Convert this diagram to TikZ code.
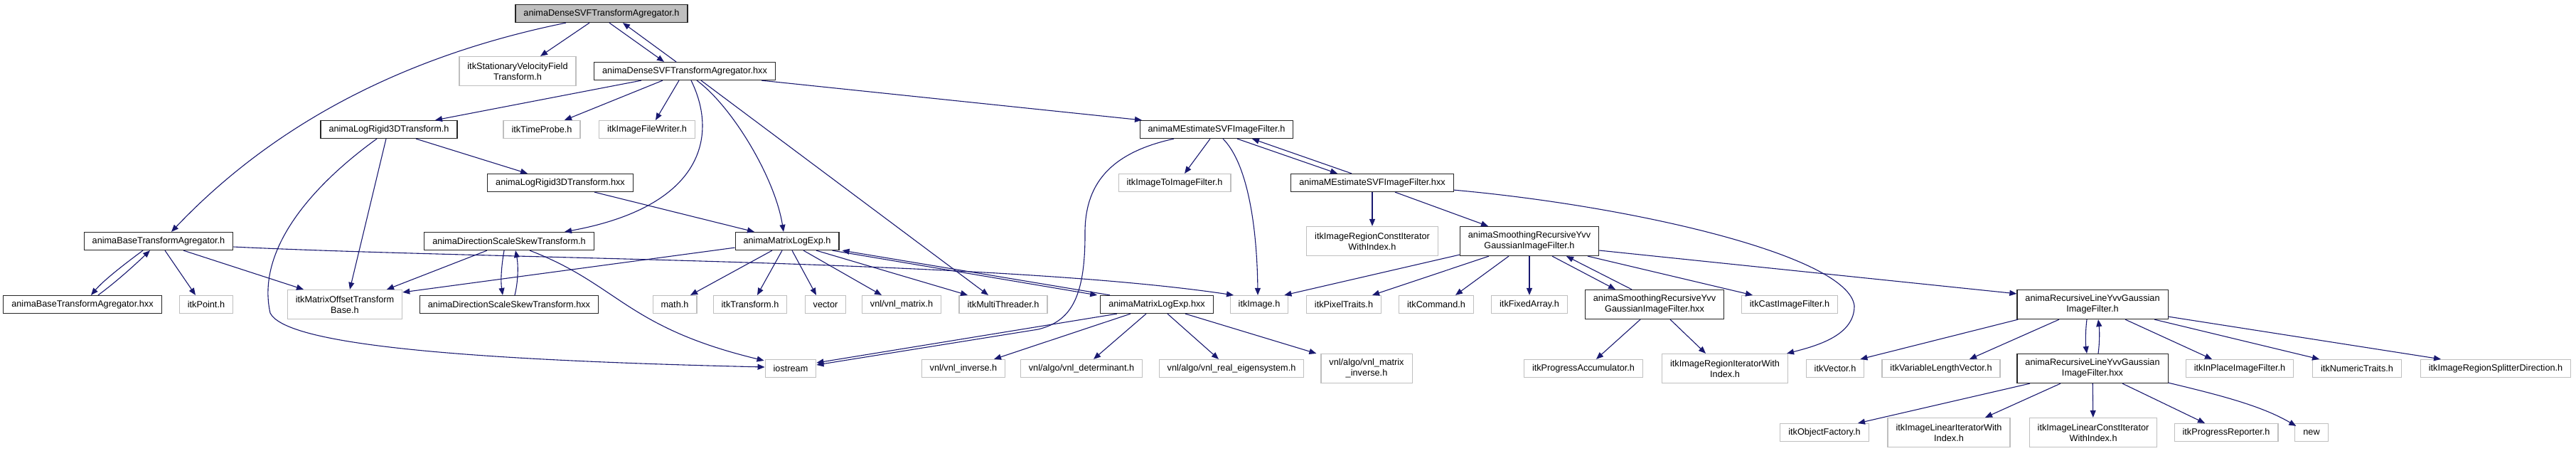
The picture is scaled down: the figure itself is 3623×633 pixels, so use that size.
\documentclass[tikz,border=0pt]{standalone}
\usepackage{fontspec}
\setmainfont{Liberation Sans}
\usetikzlibrary{arrows.meta}
\definecolor{edgeblue}{HTML}{191970}
\definecolor{grey75}{HTML}{BFBFBF}
\tikzset{
  file/.style = {draw=black!85, line width=1.2pt, fill=white, align=center,
    inner xsep=11.5pt, inner ysep=0pt, minimum height=25pt,
    font=\fontsize{12.7}{15}\selectfont},
  focus/.style = {file, fill=grey75},
  extfile/.style = {file, draw=grey75},
  tall/.style = {minimum height=41pt},
  dep/.style = {->, draw=edgeblue, line width=1.1pt},
  >={Triangle[length=10pt,width=8pt]}
}

\begin{document}
\begin{tikzpicture}[x=1pt,y=-1pt]
  \useasboundingbox (0,0) rectangle (3623,633);
  \node[focus] (dsvfH) at (846,19) {animaDenseSVFTransformAgregator.h};
  \node[extfile,tall] (svf) at (728,100) {itkStationaryVelocityField\\Transform.h};
  \node[file] (dsvfX) at (963,100) {animaDenseSVFTransformAgregator.hxx};
  \node[file] (lrH) at (547,182) {animaLogRigid3DTransform.h};
  \node[extfile] (tprobe) at (762,182) {itkTimeProbe.h};
  \node[extfile] (ifwriter) at (910,182) {itkImageFileWriter.h};
  \node[file] (mestH) at (1711,182) {animaMEstimateSVFImageFilter.h};
  \node[file] (lrX) at (788,257) {animaLogRigid3DTransform.hxx};
  \node[extfile] (itoi) at (1652,257) {itkImageToImageFilter.h};
  \node[file] (mestX) at (1930,257) {animaMEstimateSVFImageFilter.hxx};
  \node[file] (btaH) at (223,339) {animaBaseTransformAgregator.h};
  \node[file] (dssH) at (716,339) {animaDirectionScaleSkewTransform.h};
  \node[file] (mleH) at (1107,339) {animaMatrixLogExp.h};
  \node[extfile,tall] (ircwi) at (1930,339) {itkImageRegionConstIterator\\WithIndex.h};
  \node[file,tall] (smoH) at (2151,339) {animaSmoothingRecursiveYvv\\GaussianImageFilter.h};
  \node[file] (btaX) at (116,428) {animaBaseTransformAgregator.hxx};
  \node[extfile] (point) at (290,428) {itkPoint.h};
  \node[extfile,tall] (motb) at (485,428) {itkMatrixOffsetTransform\\Base.h};
  \node[file] (dssX) at (716,428) {animaDirectionScaleSkewTransform.hxx};
  \node[extfile] (mathh) at (949,428) {math.h};
  \node[extfile] (itktr) at (1055,428) {itkTransform.h};
  \node[extfile] (vect) at (1161,428) {vector};
  \node[extfile] (vnlmat) at (1268,428) {vnl/vnl\_matrix.h};
  \node[extfile] (mthread) at (1411,428) {itkMultiThreader.h};
  \node[file] (mleX) at (1627,428) {animaMatrixLogExp.hxx};
  \node[extfile] (image) at (1771,428) {itkImage.h};
  \node[extfile] (ptraits) at (1890,428) {itkPixelTraits.h};
  \node[extfile] (command) at (2020,428) {itkCommand.h};
  \node[extfile] (farray) at (2151,428) {itkFixedArray.h};
  \node[file,tall] (smoX) at (2327,428) {animaSmoothingRecursiveYvv\\GaussianImageFilter.hxx};
  \node[extfile] (cast) at (2517,428) {itkCastImageFilter.h};
  \node[file,tall] (rlH) at (2943,428) {animaRecursiveLineYvvGaussian\\ImageFilter.h};
  \node[extfile] (iostr) at (1112,518) {iostream};
  \node[extfile] (vinv) at (1355,518) {vnl/vnl\_inverse.h};
  \node[extfile] (vdet) at (1521,518) {vnl/algo/vnl\_determinant.h};
  \node[extfile] (veig) at (1732,518) {vnl/algo/vnl\_real\_eigensystem.h};
  \node[extfile,tall] (vminv) at (1922,518) {vnl/algo/vnl\_matrix\\\_inverse.h};
  \node[extfile] (pacc) at (2227,518) {itkProgressAccumulator.h};
  \node[extfile,tall] (iriwi) at (2426,518) {itkImageRegionIteratorWith\\Index.h};
  \node[extfile] (itkvec) at (2581,518) {itkVector.h};
  \node[extfile] (vlvec) at (2730,518) {itkVariableLengthVector.h};
  \node[file,tall] (rlX) at (2943,518) {animaRecursiveLineYvvGaussian\\ImageFilter.hxx};
  \node[extfile] (inplace) at (3150,518) {itkInPlaceImageFilter.h};
  \node[extfile] (ntraits) at (3315,518) {itkNumericTraits.h};
  \node[extfile] (splitter) at (3510,518) {itkImageRegionSplitterDirection.h};
  \node[extfile] (objfac) at (2566,608) {itkObjectFactory.h};
  \node[extfile,tall] (iliwi) at (2741,608) {itkImageLinearIteratorWith\\Index.h};
  \node[extfile,tall] (ilciwi) at (2944,608) {itkImageLinearConstIterator\\WithIndex.h};
  \node[extfile] (preport) at (3131,608) {itkProgressReporter.h};
  \node[extfile] (newh) at (3251,608) {new};

  \draw[dep] ([xshift=-50pt]dsvfH.south) .. controls (560,80) and (380,180) .. ([xshift=18pt]btaH.north);
  \draw[dep] ([xshift=-17pt]dsvfH.south) -- ([xshift=32pt]svf.north);
  \draw[dep] ([xshift=11pt]dsvfH.south) -- ([xshift=-29pt]dsvfX.north);
  \draw[dep] ([xshift=-12pt]dsvfX.north) -- ([xshift=30pt]dsvfH.south);

  \draw[dep] ([xshift=-61pt]dsvfX.south) -- ([xshift=65pt]lrH.north);
  \draw[dep] ([xshift=-31pt]dsvfX.south) -- ([xshift=32pt]tprobe.north);
  \draw[dep] ([xshift=-8pt]dsvfX.south) -- ([xshift=12pt]ifwriter.north);
  \draw[dep] ([xshift=108pt]dsvfX.south) -- ([xshift=-105pt]mestH.north);
  \draw[dep] ([xshift=9pt]dsvfX.south) .. controls (1010,190) and (990,290) .. ([xshift=78pt]dssH.north);
  \draw[dep] ([xshift=17pt]dsvfX.south) .. controls (1030,150) and (1090,250) .. ([xshift=-5pt]mleH.north);
  \draw[dep] ([xshift=23pt]dsvfX.south) -- ([xshift=-21pt]mthread.north);

  \draw[dep] ([xshift=38pt]lrH.south) -- ([xshift=-46pt]lrX.north);
  \draw[dep] ([xshift=-4pt]lrH.south) -- ([xshift=7pt]motb.north);
  \draw[dep] ([xshift=-17pt]lrH.south) .. controls (440,260) and (360,350) .. (380,440)
    .. controls (400,480) and (600,505) .. ([yshift=2pt]iostr.west);

  \draw[dep] ([xshift=-22pt]btaH.south) .. controls (170,375) and (145,395) .. ([xshift=12pt]btaX.north);
  \draw[dep] ([xshift=22pt]btaX.north) .. controls (165,395) and (190,372) .. ([xshift=-12pt]btaH.south);
  \draw[dep] ([xshift=9pt]btaH.south) -- ([xshift=-15pt]point.north);
  \draw[dep] ([xshift=35pt]btaH.south) -- ([xshift=-58pt]motb.north);
  \draw[dep] ([yshift=-8pt]btaH.east) .. controls (700,365) and (1400,365) .. ([xshift=-36pt]image.north);

  \draw[dep] ([xshift=48pt]lrX.south) -- ([xshift=-46pt]mleH.north);

  \draw[dep] ([xshift=-7pt]dssH.south) .. controls (705,375) and (704,395) .. ([xshift=-9pt]dssX.north);
  \draw[dep] ([xshift=8pt]dssX.north) .. controls (729,395) and (729,372) .. ([xshift=9pt]dssH.south);
  \draw[dep] ([xshift=-31pt]dssH.south) -- ([xshift=59pt]motb.north);
  \draw[dep] ([xshift=29pt]dssH.south) .. controls (870,400) and (880,460) .. ([xshift=-1pt,yshift=-2pt]iostr.north west);

  \draw[dep] ([yshift=4pt]mleH.south west) -- ([yshift=-4pt]motb.north east);
  \draw[dep] ([xshift=-21pt]mleH.south) -- ([xshift=22pt]mathh.north);
  \draw[dep] ([xshift=-7pt]mleH.south) -- ([xshift=10pt]itktr.north);
  \draw[dep] ([xshift=7pt]mleH.south) -- ([xshift=-13pt]vect.north);
  \draw[dep] ([xshift=23pt]mleH.south) -- ([xshift=-28pt]vnlmat.north);
  \draw[dep] ([xshift=41pt]mleH.south) -- ([xshift=-50pt]mthread.north);
  \draw[dep] ([xshift=-10pt]mleH.south east) -- ([xshift=-4pt]mleX.north west);
  \draw[dep] ([xshift=14pt]mleX.north west) -- ([xshift=4pt]mleH.south east);

  \draw[dep] ([xshift=-56pt]mleX.south) -- ([yshift=8pt]iostr.east);
  \draw[dep] ([xshift=-37pt]mleX.south) -- ([xshift=43pt]vinv.north);
  \draw[dep] ([xshift=-15pt]mleX.south) -- ([xshift=17pt]vdet.north);
  \draw[dep] ([xshift=15pt]mleX.south) -- ([xshift=-18pt]veig.north);
  \draw[dep] ([xshift=40pt]mleX.south) -- ([xshift=-6pt]vminv.north west);

  \draw[dep] ([xshift=-9pt]mestH.south) -- ([xshift=14pt]itoi.north);
  \draw[dep] ([xshift=-60pt]mestH.south) .. controls (1560,215) and (1525,260) .. (1526,330)
    .. controls (1526,420) and (1505,452) .. (1460,463) -- ([yshift=5pt]iostr.east);
  \draw[dep] ([xshift=9pt]mestH.south) .. controls (1755,230) and (1768,320) .. ([xshift=-2pt]image.north);
  \draw[dep] ([xshift=29pt]mestH.south) -- ([xshift=-49pt]mestX.north);
  \draw[dep] ([xshift=-29pt]mestX.north) -- ([xshift=50pt]mestH.south);

  \draw[dep] (mestX) -- (ircwi);
  \draw[dep] ([xshift=32pt]mestX.south) -- ([xshift=-58pt]smoH.north);
  \draw[dep] ([yshift=3pt]mestX.south east) .. controls (2300,290) and (2600,360) .. (2608,430)
    .. controls (2608,470) and (2560,485) .. ([xshift=-2pt]iriwi.north east);

  \draw[dep] ([yshift=2pt]smoH.south west) -- ([xshift=-6pt]image.north east);
  \draw[dep] ([xshift=-57pt]smoH.south) -- ([xshift=40pt]ptraits.north);
  \draw[dep] ([xshift=-29pt]smoH.south) -- ([xshift=27pt]command.north);
  \draw[dep] (smoH) -- (farray);
  \draw[dep] ([xshift=32pt]smoH.south) -- ([xshift=-55pt]smoX.north);
  \draw[dep] ([xshift=-32pt]smoX.north) -- ([xshift=52pt]smoH.south);
  \draw[dep] ([xshift=82pt]smoH.south) -- ([xshift=-52pt]cast.north);
  \draw[dep] ([yshift=-13pt]smoH.east) -- ([yshift=-6pt]rlH.north west);

  \draw[dep] ([xshift=-20pt]smoX.south) -- ([xshift=18pt]pacc.north);
  \draw[dep] ([xshift=22pt]smoX.south) -- ([xshift=-27pt]iriwi.north);

  \draw[dep] ([xshift=2pt]rlH.south west) -- ([xshift=-6pt]itkvec.north east);
  \draw[dep] ([xshift=-47pt]rlH.south) -- ([xshift=40pt]vlvec.north);
  \draw[dep] ([xshift=-8pt]rlH.south) .. controls (2933,465) and (2933,482) .. ([xshift=-8pt]rlX.north);
  \draw[dep] ([xshift=8pt]rlX.north) .. controls (2953,482) and (2953,465) .. ([xshift=8pt]rlH.south);
  \draw[dep] ([xshift=46pt]rlH.south) -- ([xshift=-39pt]inplace.north);
  \draw[dep] ([xshift=87pt]rlH.south) -- ([xshift=-53pt]ntraits.north);
  \draw[dep] ([yshift=4pt]rlH.south east) -- ([xshift=-77pt]splitter.north);

  \draw[dep] ([xshift=-88pt]rlX.south) -- ([xshift=47pt]objfac.north);
  \draw[dep] ([xshift=-45pt]rlX.south) -- ([xshift=51pt]iliwi.north);
  \draw[dep] (rlX) -- (ilciwi);
  \draw[dep] ([xshift=42pt]rlX.south) -- ([xshift=-30pt]preport.north);
  \draw[dep] ([yshift=1pt]rlX.south east) .. controls (3120,555) and (3180,570) .. ([xshift=2pt,yshift=-4pt]newh.north west);
\end{tikzpicture}
\end{document}
